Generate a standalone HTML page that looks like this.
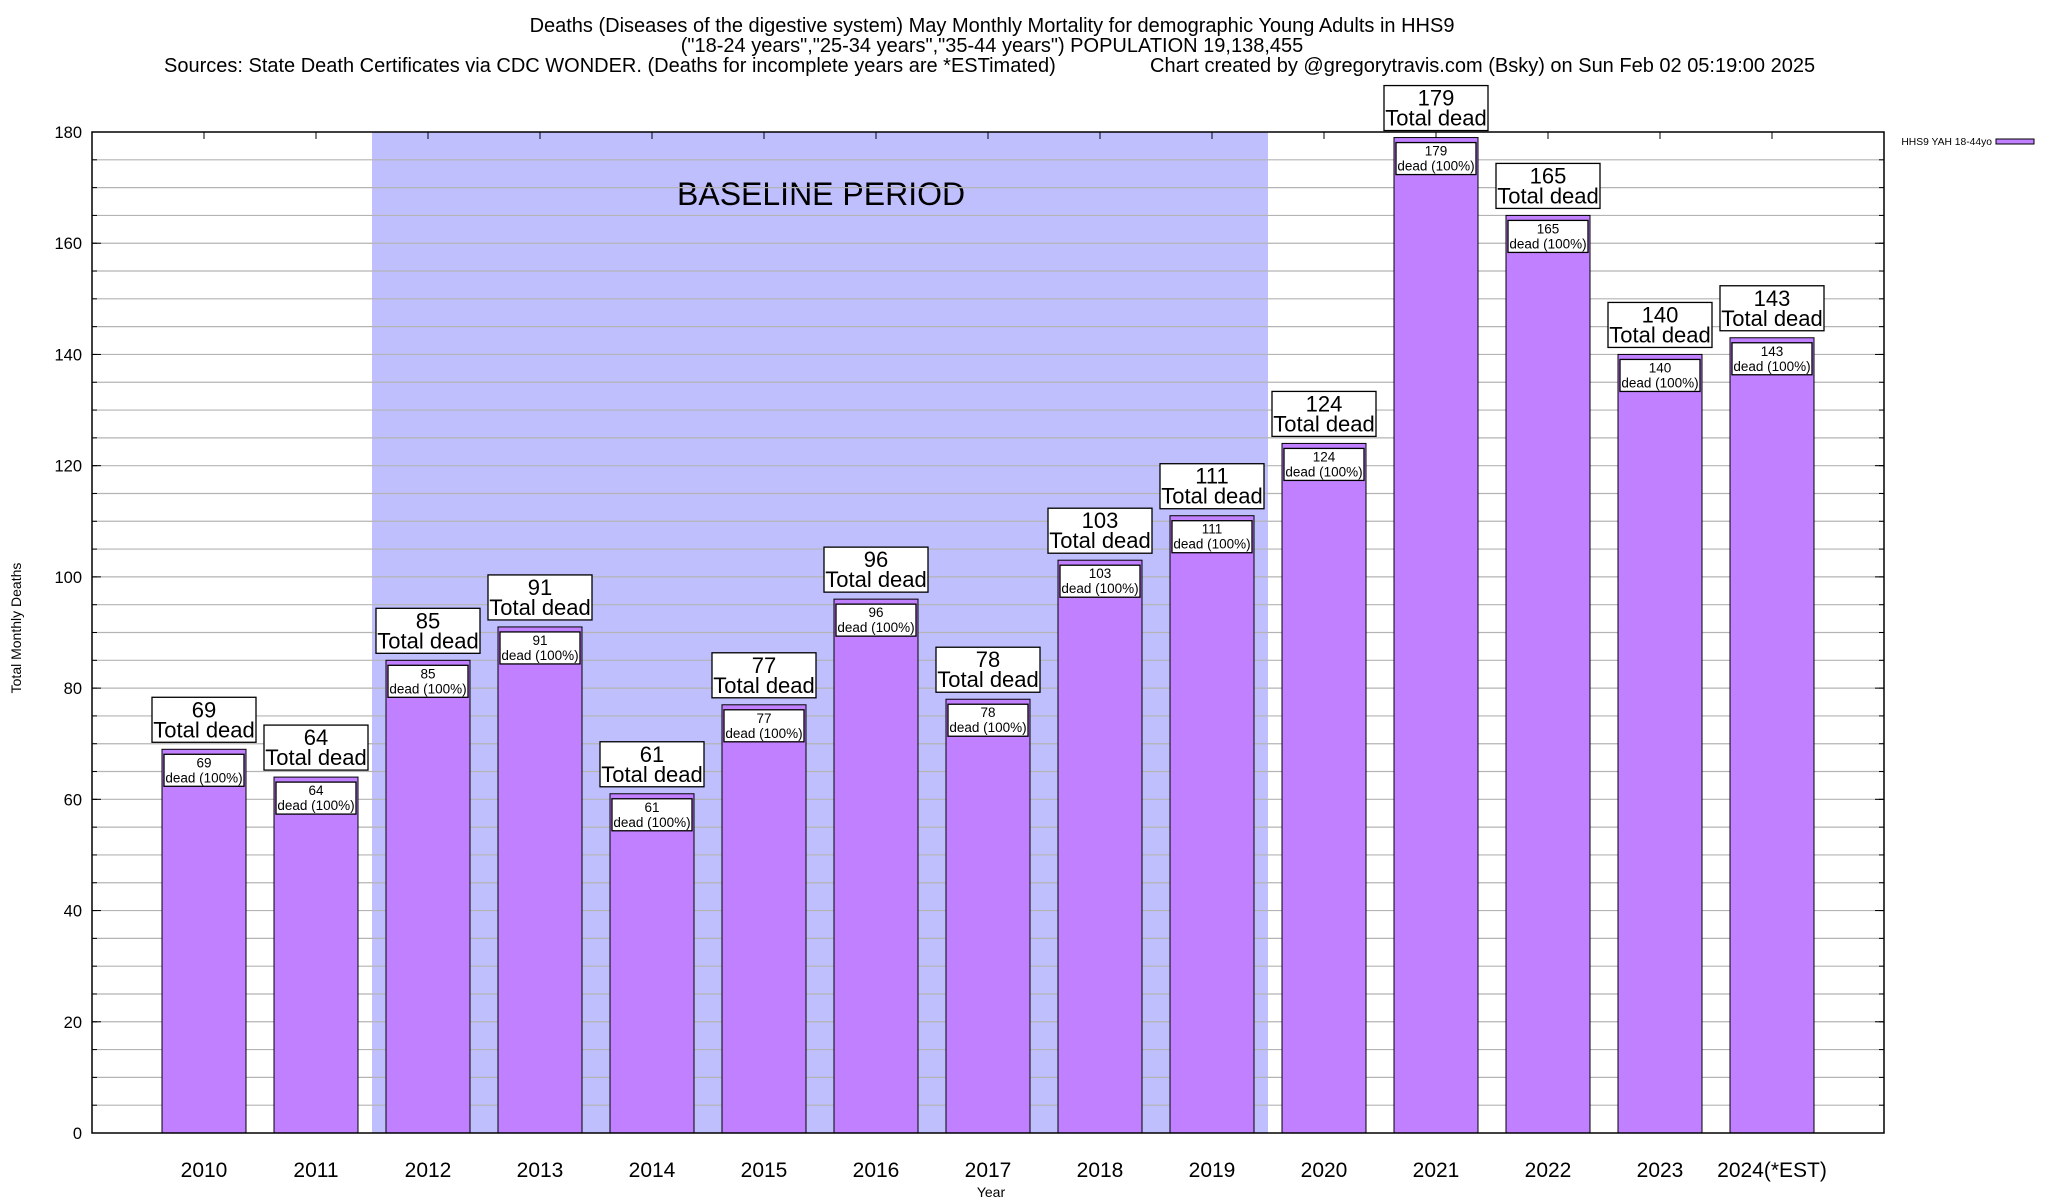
<!DOCTYPE html>
<html><head><meta charset="utf-8"><style>
html,body{margin:0;padding:0;background:#fff;width:2048px;height:1200px;overflow:hidden}
svg{display:block;font-family:"Liberation Sans",Arial,sans-serif}
</style></head><body>
<svg id="chart" width="2048" height="1200" viewBox="0 0 2048 1200">
<text x="992" y="32" font-size="20" text-anchor="middle">Deaths (Diseases of the digestive system) May Monthly Mortality for demographic Young Adults in HHS9</text>
<text x="992" y="52" font-size="20" text-anchor="middle">("18-24 years","25-34 years","35-44 years") POPULATION 19,138,455</text>
<text x="164" y="72" font-size="20">Sources: State Death Certificates via CDC WONDER. (Deaths for incomplete years are *ESTimated)</text>
<text x="1150" y="72" font-size="20">Chart created by @gregorytravis.com (Bsky) on Sun Feb 02 05:19:00 2025</text>
<g id="plot"></g>
<text x="1992" y="145" font-size="10.3" text-anchor="end">HHS9 YAH 18-44yo</text>
<rect x="1996" y="139" width="38" height="5" fill="#c080ff" stroke="#000" stroke-width="1"/>
<text x="991" y="1197" font-size="14" text-anchor="middle">Year</text>
<text transform="translate(21,628) rotate(-90)" font-size="14" text-anchor="middle">Total Monthly Deaths</text>
</svg>
<script>
const categories = ["2010","2011","2012","2013","2014","2015","2016","2017","2018","2019","2020","2021","2022","2023","2024(*EST)"];
const deaths = [69,64,85,91,61,77,96,78,103,111,124,179,165,140,143];
const yTicks = [0,20,40,60,80,100,120,140,160,180];
const baselineStart = 2, baselineEnd = 9;

const NS = "http://www.w3.org/2000/svg";
const L = 92, R = 1884, T = 132, B = 1133, yMax = 180;
const slot = (R - L) / (categories.length + 1);
const xPos = i => L + slot * (i + 1);
const yPos = v => B - (v / yMax) * (B - T);
const g = document.getElementById("plot");
function mk(tag, attrs, parent) {
  const e = document.createElementNS(NS, tag);
  for (const k in attrs) e.setAttribute(k, attrs[k]);
  (parent || g).appendChild(e);
  return e;
}
const bs = mk("rect", {x: xPos(baselineStart) - slot/2, y: T, width: (baselineEnd - baselineStart + 1) * slot, height: B - T, fill: "#bfbffe"});


const bt = mk("text", {x: 677, y: 205, "font-size": 32});
bt.textContent = "BASELINE PERIOD";


for (let v = 5; v < yMax; v += 5) {
  const gl = mk("line", {x1: L, x2: R, y1: yPos(v), y2: yPos(v), stroke: "#b4b4b4", "stroke-width": 1.2});
  
  
  mk("line", {x1: L, x2: L + 5, y1: yPos(v), y2: yPos(v), stroke: "#000"});
  mk("line", {x1: R, x2: R - 5, y1: yPos(v), y2: yPos(v), stroke: "#000"});
}
yTicks.forEach(v => {
  const t = mk("text", {x: L - 10, y: yPos(v) + 6, "font-size": 16.5, "text-anchor": "end"});
  t.textContent = v;
  
  
  mk("line", {x1: L, x2: L + 9, y1: yPos(v), y2: yPos(v), stroke: "#000"});
  mk("line", {x1: R, x2: R - 9, y1: yPos(v), y2: yPos(v), stroke: "#000"});
});
const bw = slot * 0.75;
deaths.forEach((v, i) => {
  const cx = xPos(i), top = yPos(v);
  mk("line", {x1: cx, x2: cx, y1: T, y2: T + 7, stroke: "#000"});
  const bar = mk("rect", {x: cx - bw/2, y: top, width: bw, height: B - top, fill: "#c080ff", stroke: "#000", "stroke-width": 1});
  
  
  const ib = mk("rect", {x: cx - 40, y: top + 5, width: 80, height: 32, fill: "#fff", stroke: "#000", "stroke-width": 1.3});
  
  
  const t1 = mk("text", {x: cx, y: top + 18, "font-size": 13.5, "text-anchor": "middle"});
  t1.textContent = v;
  
  
  const t2 = mk("text", {x: cx, y: top + 33, "font-size": 13.5, "text-anchor": "middle"});
  t2.textContent = "dead (100%)";
  
  
  const ob = mk("rect", {x: cx - 52, y: top - 52, width: 104, height: 45, fill: "#fff", stroke: "#000", "stroke-width": 1.3});
  
  
  const t3 = mk("text", {x: cx, y: top - 32, "font-size": 22, "text-anchor": "middle"});
  t3.textContent = v;
  
  
  const t4 = mk("text", {x: cx, y: top - 12, "font-size": 22, "text-anchor": "middle"});
  t4.textContent = "Total dead";
  
  
  const xl = mk("text", {x: cx, y: 1177, "font-size": 21, "text-anchor": "middle"});
  xl.textContent = categories[i];
  
  
});
const frame = mk("rect", {x: L, y: T, width: R - L, height: B - T, fill: "none", stroke: "#000", "stroke-width": 1.5});


</script>
</body></html>
